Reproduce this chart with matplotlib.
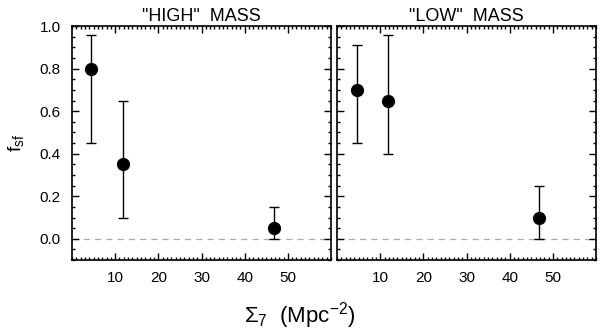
import matplotlib.pyplot as plt
from matplotlib.ticker import MultipleLocator

plt.rcParams['font.family'] = ['Liberation Sans', 'DejaVu Sans']
plt.rcParams['mathtext.fontset'] = 'custom'
plt.rcParams['mathtext.rm'] = 'Liberation Sans'
plt.rcParams['mathtext.it'] = 'Liberation Sans'

# density (Mpc^-2), star-forming fraction, error bar bounds
high_x = [4.5, 11.8, 46.7]
high_y = [0.80, 0.35, 0.05]
high_lo = [0.45, 0.10, 0.00]
high_hi = [0.96, 0.65, 0.15]

low_x = [4.7, 11.9, 46.9]
low_y = [0.70, 0.65, 0.10]
low_lo = [0.45, 0.40, 0.00]
low_hi = [0.91, 0.96, 0.25]

titles = ['"HIGH"  MASS', '"LOW"  MASS']

fig = plt.figure(figsize=(6, 3.3), dpi=100)
ax1 = fig.add_axes([0.12, 0.212, 0.4317, 0.709])
ax2 = fig.add_axes([0.5617, 0.212, 0.4317, 0.709])

panels = [(ax1, high_x, high_y, high_lo, high_hi),
          (ax2, low_x, low_y, low_lo, low_hi)]

for i, (ax, x, y, lo, hi) in enumerate(panels):
    err = [[yy - l for yy, l in zip(y, lo)], [h - yy for yy, h in zip(y, hi)]]
    ax.axhline(0, color='#aaaaaa', linestyle=(0, (5, 4)), lw=0.9, zorder=1)
    ax.errorbar(x, y, yerr=err, fmt='o', color='black', ms=8.5,
                capsize=3.5, elinewidth=1.0, capthick=1.0, zorder=3)
    ax.set_xlim(0, 60)
    ax.set_ylim(-0.1, 1.0)
    ax.xaxis.set_major_locator(MultipleLocator(10))
    ax.xaxis.set_minor_locator(MultipleLocator(1))
    ax.yaxis.set_major_locator(MultipleLocator(0.2))
    ax.yaxis.set_minor_locator(MultipleLocator(0.05))
    ax.set_xticks([10, 20, 30, 40, 50])
    ax.tick_params(which='both', direction='in', top=True, right=True,
                   labelsize=11, width=1.0)
    ax.tick_params(which='major', length=5, pad=8)
    ax.tick_params(which='minor', length=2.5)
    for s in ax.spines.values():
        s.set_linewidth(1.2)
    ax.set_title(titles[i], fontsize=13, pad=4)
    if i == 0:
        ax.yaxis.set_major_formatter(plt.FuncFormatter(lambda v, p: f'{v:.1f}'))
        ax.set_ylabel(r'f$_{\rm sf}$', fontsize=14, labelpad=10)
    else:
        ax.tick_params(labelleft=False)

fig.text(0.5, 0.045, r'$\Sigma_7$  (Mpc$^{-2}$)', ha='center', va='center', fontsize=16)

fig.savefig('out.png', dpi=100)
